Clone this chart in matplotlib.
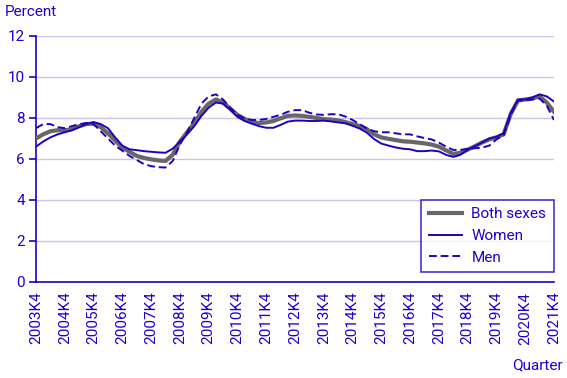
import numpy as np
import matplotlib
matplotlib.use("Agg")
import matplotlib.pyplot as plt

plt.rcParams['font.family'] = ['Roboto', 'DejaVu Sans']

# quarterly labels 2003K4 .. 2021K4
years = list(range(2003, 2022))
year_labels = [f"{y}K4" for y in years]

both_sexes = [
    7.0, 7.2, 7.35, 7.4, 7.4, 7.45, 7.6, 7.7,
    7.72, 7.55, 7.25, 6.9, 6.55, 6.35, 6.15, 6.05,
    5.98, 5.93, 5.9, 6.2, 6.85, 7.3, 7.75, 8.3,
    8.7, 8.9, 8.75, 8.45, 8.15, 7.95, 7.8, 7.75,
    7.78, 7.85, 7.98, 8.1, 8.12, 8.1, 8.05, 8.0,
    7.94, 7.92, 7.88, 7.8, 7.7, 7.6, 7.45, 7.2,
    7.05, 6.98, 6.92, 6.86, 6.84, 6.8, 6.76, 6.7,
    6.6, 6.42, 6.25, 6.3, 6.45, 6.62, 6.8, 6.95,
    7.05, 7.2, 8.2, 8.85, 8.9, 8.95, 9.05, 8.75,
    8.3,
]
women = [
    6.6, 6.85, 7.05, 7.2, 7.3, 7.4, 7.55, 7.7,
    7.8, 7.7, 7.5, 7.05, 6.65, 6.47, 6.43, 6.38,
    6.35, 6.32, 6.3, 6.5, 6.85, 7.2, 7.6, 8.1,
    8.5, 8.75, 8.7, 8.4, 8.05, 7.85, 7.72, 7.6,
    7.52, 7.52, 7.66, 7.82, 7.87, 7.87, 7.85, 7.85,
    7.87, 7.83, 7.78, 7.74, 7.62, 7.48, 7.28, 6.97,
    6.75, 6.65, 6.56, 6.5, 6.47, 6.38, 6.38, 6.41,
    6.37, 6.2, 6.1, 6.2, 6.45, 6.62, 6.8, 7.0,
    7.08, 7.25, 8.25, 8.9, 8.9, 9.0, 9.15, 9.05,
    8.8,
]
men = [
    7.5, 7.7, 7.7, 7.55, 7.5, 7.6, 7.7, 7.75,
    7.7, 7.35, 7.0, 6.65, 6.4, 6.15, 5.95, 5.75,
    5.65, 5.6, 5.58, 5.9, 6.7, 7.3, 8.0, 8.7,
    9.05, 9.15, 8.9, 8.5, 8.15, 7.98, 7.9, 7.9,
    7.95, 8.05, 8.15, 8.3, 8.38, 8.38, 8.25, 8.17,
    8.15, 8.18, 8.18, 8.07, 7.9, 7.7, 7.48, 7.35,
    7.3, 7.3, 7.25, 7.2, 7.2, 7.1, 7.02, 6.95,
    6.8, 6.6, 6.44, 6.44, 6.5, 6.52, 6.55, 6.65,
    6.95, 7.15, 8.15, 8.85, 8.85, 8.9, 8.95, 8.6,
    7.9,
]

blue = '#1e00c0'
text_blue = '#2200cc'
grey = '#676767'
grid_col = '#c9c6ee'

x = np.arange(len(both_sexes))

fig = plt.figure(figsize=(5.67, 3.78), dpi=100)
ax = fig.add_axes([0.0635, 0.254, 0.9135, 0.651])

ax.plot(x, both_sexes, color=grey, lw=3.0, label="Both sexes", zorder=3)
ax.plot(x, women, color=blue, lw=1.4, label="Women", zorder=4)
ax.plot(x, men, color=blue, lw=1.4, ls=(0, (4, 2)), label="Men", zorder=4)

ax.set_xlim(0, len(x) - 1)
ax.set_ylim(0, 12)
ax.set_yticks(range(0, 13, 2))
ax.yaxis.grid(True, color=grid_col, lw=1)
ax.set_axisbelow(True)

ax.set_xticks(x[::4])
ax.set_xticklabels(year_labels, rotation=90)
ax.set_xticks(x[::12], minor=True)
ax.tick_params(axis='x', which='major', length=0, pad=7, labelsize=11,
               labelcolor=text_blue)
ax.tick_params(axis='x', which='minor', length=6, width=1.2, color=blue,
               direction='out')
ax.tick_params(axis='y', length=5, width=1.2, color=blue, labelsize=11,
               labelcolor=text_blue, pad=3)

for s in ['top', 'right']:
    ax.spines[s].set_visible(False)
for s in ['left', 'bottom']:
    ax.spines[s].set_color(blue)
    ax.spines[s].set_linewidth(1.2)

fig.text(0.009, 0.968, "Percent", color=text_blue, fontsize=11,
         ha='left', va='center')
fig.text(0.993, 0.033, "Quarter", color=text_blue, fontsize=11,
         ha='right', va='center')

leg = ax.legend(loc='lower right', bbox_to_anchor=(1.0, 0.04), fontsize=11,
                frameon=True, fancybox=False, handlelength=2.2,
                handletextpad=0.6, borderpad=0.5, labelspacing=0.5,
                borderaxespad=0.0)
leg.get_frame().set_edgecolor(blue)
leg.get_frame().set_linewidth(1.2)
for t in leg.get_texts():
    t.set_color(text_blue)

fig.savefig("out.png", dpi=100)
